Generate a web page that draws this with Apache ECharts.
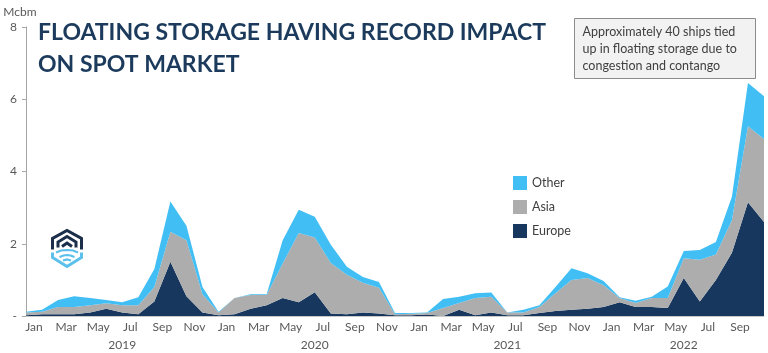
<!DOCTYPE html>
<html>
<head>
<meta charset="utf-8">
<script src="https://cdn.jsdelivr.net/npm/echarts@6/dist/echarts.min.js"></script>
<style>
  html, body { margin: 0; padding: 0; background: #ffffff; }
  #chart { width: 768px; height: 353px; }
</style>
</head>
<body>
<div id="chart"></div>
<script>
// ---- Data ----
var years = ['2019', '2020', '2021', '2022'];
var monthNames = ['Jan','Feb','Mar','Apr','May','Jun','Jul','Aug','Sep','Oct','Nov','Dec'];
var lastMonthCount = 10; // 2022 data runs Jan-Oct
// Month-end points, from end of Dec 2018 to end of Oct 2022
var europe = [0.02,0.05,0.05,0.05,0.10,0.20,0.10,0.05,0.40,1.50,0.55,0.10,0.02,
              0.05,0.20,0.30,0.50,0.38,0.66,0.07,0.05,0.10,0.07,0.02,0.02,
              0.04,0.00,0.17,0.02,0.10,0.02,0.02,0.08,0.14,0.17,0.20,0.25,
              0.38,0.25,0.25,0.22,1.05,0.40,1.00,1.75,3.15,2.60];
var asia   = [0.08,0.07,0.20,0.20,0.20,0.15,0.20,0.25,0.40,0.83,1.55,0.50,0.08,
              0.45,0.38,0.28,0.95,1.92,1.51,1.40,1.09,0.82,0.71,0.03,0.04,
              0.04,0.22,0.19,0.48,0.43,0.08,0.08,0.17,0.49,0.83,0.85,0.60,
              0.12,0.11,0.25,0.28,0.55,1.16,0.70,0.90,2.10,2.30];
var other  = [0.02,0.05,0.19,0.30,0.20,0.09,0.08,0.22,0.50,0.84,0.40,0.20,0.02,
              0.00,0.02,0.02,0.65,0.64,0.58,0.50,0.22,0.16,0.16,0.03,0.02,
              0.02,0.25,0.17,0.13,0.12,0.00,0.07,0.05,0.17,0.32,0.13,0.12,
              0.02,0.06,0.03,0.32,0.20,0.27,0.35,0.65,1.20,1.18];
var yTicks = [0, 2, 4, 6, 8];
var titleText = 'FLOATING STORAGE HAVING RECORD IMPACT\nON SPOT MARKET';
var noteText = 'Approximately 40 ships tied\nup in floating storage due to\ncongestion and contango';

// ---- Derived categories ----
var monthLabels = [];   // one per month band
var pointLabels = ['2018-12']; // one per month-end point
var yearOfPoint = [null];
years.forEach(function (y, yi) {
  var n = (yi === years.length - 1) ? lastMonthCount : 12;
  for (var m = 0; m < n; m++) {
    monthLabels.push(monthNames[m]);
    pointLabels.push(y + '-' + (m + 1));
    yearOfPoint.push(y);
  }
});
// Year label sits at the centre of each year's span of months
var yearCenter = {};
years.forEach(function (y) {
  var first = yearOfPoint.indexOf(y), last = yearOfPoint.lastIndexOf(y);
  yearCenter[(first - 1 + last) / 2] = y;
});

var chart = echarts.init(document.getElementById('chart'), null, { renderer: 'canvas' });
var navy = '#17375E', blue = '#41BEF4', grey = '#ADADAD';
var font = 'Lato, "Open Sans", sans-serif';

var option = {
  animation: false,
  backgroundColor: '#ffffff',
  title: {
    text: titleText,
    left: 33, top: 12,
    textStyle: { fontFamily: font, fontWeight: 'bold', fontSize: 23, lineHeight: 32, color: '#1B3A5C' }
  },
  legend: {
    orient: 'vertical',
    left: 508, top: 171,
    itemWidth: 14, itemHeight: 14, itemGap: 10,
    icon: 'rect',
    data: ['Other', 'Asia', 'Europe'],
    textStyle: { fontFamily: font, fontSize: 12.5, color: '#404040' }
  },
  grid: { left: 26, right: 4, top: 27, bottom: 37, containLabel: false },
  xAxis: [
    {
      type: 'category', position: 'bottom',
      data: monthLabels, boundaryGap: true,
      axisLine: { show: true, lineStyle: { color: '#C8C8C8', width: 1 } },
      axisTick: { show: false },
      axisLabel: { interval: 1, margin: 5, fontFamily: font, fontSize: 12, color: '#595959' }
    },
    {
      type: 'category', position: 'bottom',
      data: pointLabels, boundaryGap: false,
      axisLine: { show: false }, axisTick: { show: false }, splitLine: { show: false },
      axisLabel: {
        interval: 0, margin: 23, fontFamily: font, fontSize: 12, color: '#595959',
        formatter: function (v, i) { return yearCenter[i] || ''; }
      }
    }
  ],
  yAxis: {
    type: 'value', min: yTicks[0], max: yTicks[yTicks.length - 1], interval: 2,
    name: 'Mcbm', nameLocation: 'end', nameGap: 9,
    nameTextStyle: { fontFamily: font, fontSize: 12, color: '#595959', align: 'center', padding: [0, 12, 0, 0] },
    axisLine: { show: true, lineStyle: { color: '#A6A6A6' } },
    axisTick: { show: true, length: 4, lineStyle: { color: '#A6A6A6' } },
    splitLine: { show: false },
    axisLabel: {
      margin: 9, fontFamily: font, fontSize: 12, color: '#595959',
      formatter: function (v) { return v === 0 ? '-' : String(v); }
    }
  },
  series: [
    { name: 'Europe', type: 'line', xAxisIndex: 1, stack: 'total', data: europe,
      symbol: 'none', lineStyle: { width: 0 }, areaStyle: { color: navy, opacity: 1 }, itemStyle: { color: navy } },
    { name: 'Asia', type: 'line', xAxisIndex: 1, stack: 'total', data: asia,
      symbol: 'none', lineStyle: { width: 0 }, areaStyle: { color: grey, opacity: 1 }, itemStyle: { color: grey } },
    { name: 'Other', type: 'line', xAxisIndex: 1, stack: 'total', data: other,
      symbol: 'none', lineStyle: { width: 0 }, areaStyle: { color: blue, opacity: 1 }, itemStyle: { color: blue } }
  ],
  graphic: [
    {
      type: 'group', left: 574, top: 18,
      children: [
        { type: 'rect', shape: { x: 0, y: 0, width: 181, height: 60 },
          style: { fill: '#F2F2F2', stroke: '#8C8C8C', lineWidth: 1 } },
        { type: 'text', x: 8, y: 5,
          style: { text: noteText, font: '12.5px ' + font, fill: '#404040', lineHeight: 17 } }
      ]
    },
    {
      type: 'group', left: 50, top: 228,
      children: [
        { type: 'polyline', shape: { points: [[1.5, 20], [1.5, 9], [16, 1], [30.5, 9], [30.5, 20]] },
          style: { stroke: '#1B2F4A', lineWidth: 3, fill: null } },
        { type: 'polyline', shape: { points: [[7, 18], [7, 12.5], [16, 7], [25, 12.5], [25, 18]] },
          style: { stroke: '#1B2F4A', lineWidth: 3, fill: null } },
        { type: 'polyline', shape: { points: [[11, 17], [16, 13.5], [21, 17]] },
          style: { stroke: '#1B2F4A', lineWidth: 3, fill: null } },
        { type: 'polyline', shape: { points: [[1.5, 23], [1.5, 28], [16, 37], [30.5, 28], [30.5, 23]] },
          style: { stroke: '#5BC0EB', lineWidth: 3, fill: null } },
        { type: 'polyline', shape: { points: [[5, 23], [10, 21], [16, 20.5], [22, 21], [27, 23]] },
          style: { stroke: '#5BC0EB', lineWidth: 2.2, fill: null } },
        { type: 'polyline', shape: { points: [[8.5, 27.5], [12.5, 26], [16, 25.5], [19.5, 26], [23.5, 27.5]] },
          style: { stroke: '#5BC0EB', lineWidth: 2.2, fill: null } },
        { type: 'polyline', shape: { points: [[12, 31], [16, 30], [20, 31]] },
          style: { stroke: '#5BC0EB', lineWidth: 2.2, fill: null } }
      ]
    }
  ]
};
chart.setOption(option);
</script>
</body>
</html>
